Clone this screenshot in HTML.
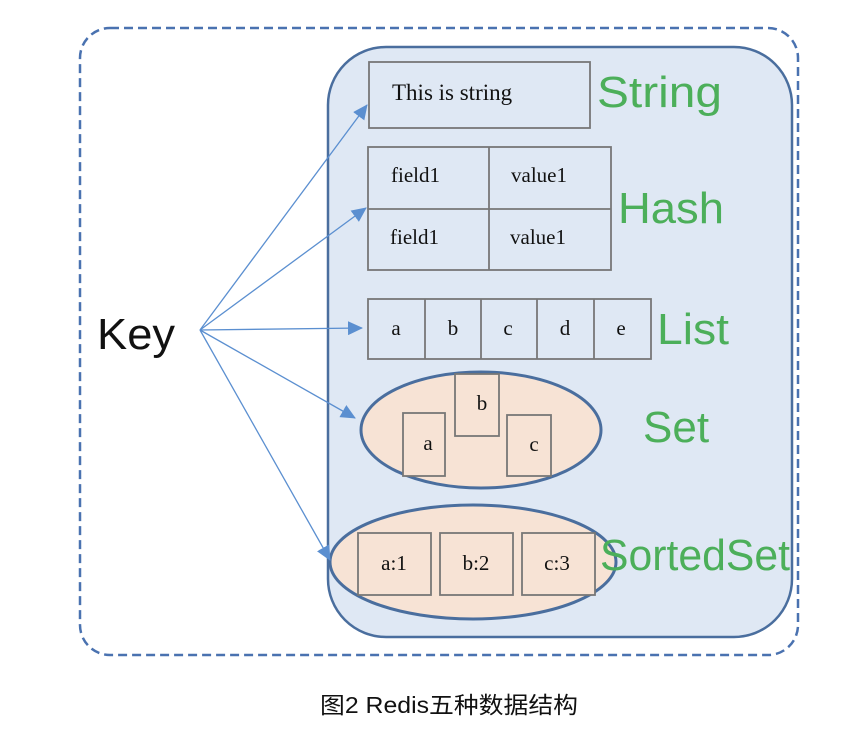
<!DOCTYPE html>
<html><head><meta charset="utf-8"><style>
body{margin:0;background:#fff;width:862px;height:728px;overflow:hidden}
</style></head><body>
<svg width="862" height="728" xmlns="http://www.w3.org/2000/svg">
<defs><marker id="ar" markerWidth="16" markerHeight="14" refX="14" refY="7" orient="auto" markerUnits="userSpaceOnUse"><path d="M0,0 L15,7 L0,14 z" fill="#5b8fd0"/></marker></defs>
<rect x="80" y="28" width="718" height="627" rx="30" fill="#fff" stroke="#4a72b0" stroke-width="2.5" stroke-dasharray="9,5"/>
<rect x="328" y="47" width="464" height="590" rx="58" fill="#dfe8f4" stroke="#4a6e9e" stroke-width="2.5"/>
<g fill="#dfe8f4" stroke="#777" stroke-width="1.8">
<rect x="369" y="62" width="221" height="66"/>
<rect x="368" y="147" width="243" height="123"/>
<line x1="489" y1="147" x2="489" y2="270"/><line x1="368" y1="209" x2="611" y2="209"/>
<rect x="368" y="299" width="283" height="60"/>
<line x1="425" y1="299" x2="425" y2="359"/><line x1="481" y1="299" x2="481" y2="359"/><line x1="537" y1="299" x2="537" y2="359"/><line x1="594" y1="299" x2="594" y2="359"/>
</g>
<ellipse cx="481" cy="430" rx="120" ry="58" fill="#f7e3d5" stroke="#4a6e9e" stroke-width="3"/>
<ellipse cx="473" cy="562" rx="143" ry="57" fill="#f7e3d5" stroke="#4a6e9e" stroke-width="3"/>
<g fill="#f7e3d5" stroke="#777" stroke-width="1.8">
<rect x="403" y="413" width="42" height="63"/><rect x="455" y="374" width="44" height="62"/><rect x="507" y="415" width="44" height="61"/>
<rect x="358" y="533" width="73" height="62"/><rect x="440" y="533" width="73" height="62"/><rect x="522" y="533" width="73" height="62"/>
</g>
<g font-family="Liberation Serif,serif" font-size="21" fill="#111">
<text x="392" y="100" font-size="23">This is string</text>
<text x="391" y="182">field1</text><text x="511" y="182">value1</text>
<text x="390" y="244">field1</text><text x="510" y="244">value1</text>
<g text-anchor="middle">
<text x="396" y="335">a</text><text x="453" y="335">b</text><text x="508" y="335">c</text><text x="565" y="335">d</text><text x="621" y="335">e</text>
<text x="428" y="450">a</text><text x="482" y="410">b</text><text x="534" y="451">c</text>
<text x="394" y="570">a:1</text><text x="476" y="570">b:2</text><text x="557" y="570">c:3</text>
</g></g>
<g font-family="Liberation Sans,sans-serif" font-size="44" fill="#4caf5a">
<text x="597" y="107" textLength="125" lengthAdjust="spacingAndGlyphs">String</text><text x="618" y="223" textLength="106" lengthAdjust="spacingAndGlyphs">Hash</text><text x="657" y="344" textLength="72" lengthAdjust="spacingAndGlyphs">List</text><text x="643" y="442">Set</text><text x="600" y="570" textLength="190" lengthAdjust="spacingAndGlyphs">SortedSet</text>
</g>
<text x="97" y="349" font-family="Liberation Sans,sans-serif" font-size="44" fill="#111" textLength="78" lengthAdjust="spacingAndGlyphs">Key</text>
<g stroke="#5b8fd0" stroke-width="1.3" marker-end="url(#ar)">
<line x1="200" y1="330" x2="367" y2="105"/><line x1="200" y1="330" x2="366" y2="208"/><line x1="200" y1="330" x2="362" y2="328"/><line x1="200" y1="330" x2="355" y2="418"/><line x1="200" y1="330" x2="330" y2="560"/>
</g>
<text x="449" y="713" text-anchor="middle" font-family="Liberation Sans,Noto Sans CJK SC,sans-serif" font-size="23" fill="#111" textLength="258" lengthAdjust="spacingAndGlyphs">图2 Redis五种数据结构</text>
</svg>
</body></html>
